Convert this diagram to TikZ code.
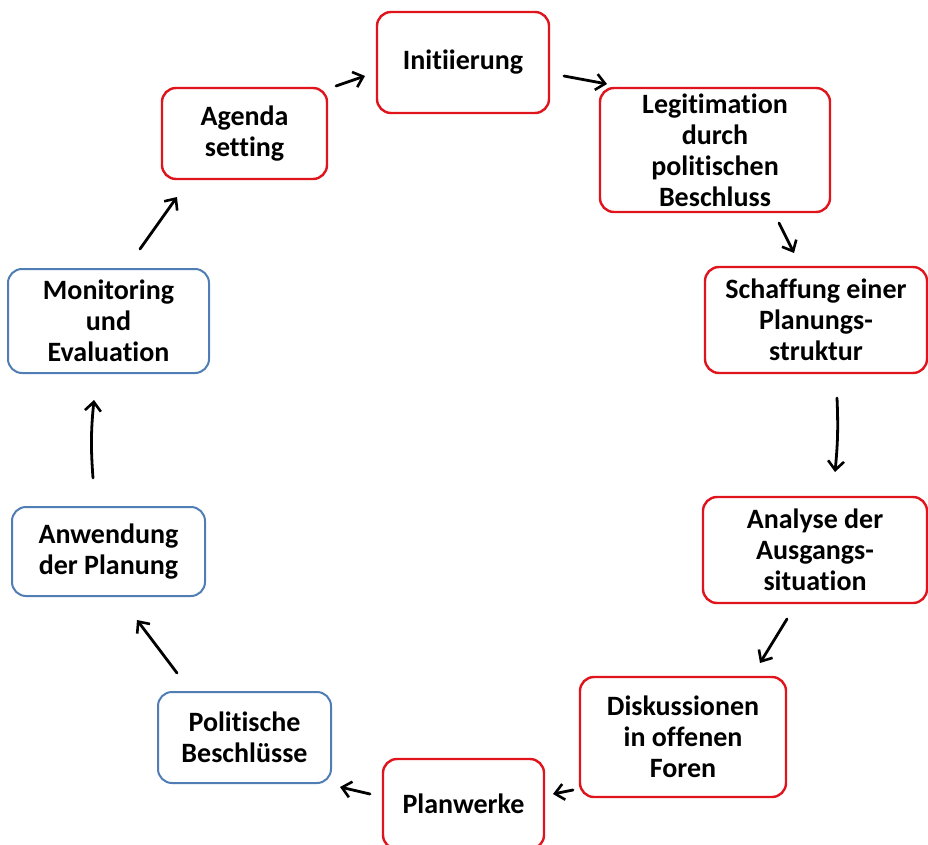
\documentclass[tikz,border=0pt]{standalone}
\usepackage{fontspec}
\setmainfont{Carlito}[Ligatures=NoCommon]
\usetikzlibrary{arrows.meta}
\definecolor{boxred}{RGB}{224,20,28}
\definecolor{boxblue}{RGB}{79,125,180}
\begin{document}
\begin{tikzpicture}[x=1pt,y=-1pt,
 stage/.style={draw, rounded corners=14pt, line width=2.4pt, align=center, font=\bfseries\fontsize{28}{31}\selectfont, inner sep=0pt, fill=white},
 redbox/.style={stage, draw=boxred},
 bluebox/.style={stage, draw=boxblue, line width=2pt},
 flow/.style={-{Straight Barb[length=9pt,width=16pt,line width=2.6pt]}, line width=2.8pt, line cap=round}]
\useasboundingbox (0,0) rectangle (928,845);
\node[redbox, minimum width=172pt, minimum height=101pt] (init) at (463,62.5) {Initiierung};
\node[redbox, minimum width=230pt, minimum height=124pt] (legit) at (715,150) {Legitimation\\durch\\politischen\\Beschluss};
\node[redbox, minimum width=222pt, minimum height=106pt] (schaff) at (816,320) {Schaffung einer\\Planungs-\\struktur};
\node[redbox, minimum width=224pt, minimum height=106pt] (analyse) at (815,550) {Analyse der\\Ausgangs-\\situation};
\node[redbox, minimum width=206pt, minimum height=120pt] (disk) at (683,737) {Diskussionen\\in offenen\\Foren};
\node[redbox, minimum width=161pt, minimum height=90pt] (plan) at (463.5,804) {Planwerke};
\node[bluebox, minimum width=173pt, minimum height=91pt] (polit) at (244.5,737.5) {Politische\\Beschlüsse};
\node[bluebox, minimum width=193pt, minimum height=89pt] (anw) at (108.5,551.5) {Anwendung\\der Planung};
\node[bluebox, minimum width=201pt, minimum height=104pt] (monit) at (108.5,321) {Monitoring\\und\\Evaluation};
\node[redbox, minimum width=165pt, minimum height=91pt] (agenda) at (244.5,133.5) {Agenda\\setting};
% connector end points
\coordinate (a1s) at (336,86);  \coordinate (a1e) at (365,76);
\coordinate (a2s) at (564,76);  \coordinate (a2e) at (607,84);
\coordinate (a3s) at (779,223); \coordinate (a3e) at (794,253);
\coordinate (a4s) at (837,398); \coordinate (a4e) at (835,472);
\coordinate (a5s) at (787,619); \coordinate (a5e) at (760,663);
\coordinate (a6s) at (573,790); \coordinate (a6e) at (553,794);
\coordinate (a7s) at (370,794); \coordinate (a7e) at (340,787);
\coordinate (a8s) at (177,673); \coordinate (a8e) at (137,620);
\coordinate (a9s) at (93,478);  \coordinate (a9e) at (94,400);
\coordinate (a10s) at (140,249); \coordinate (a10e) at (177,197);
\draw[flow] (a1s) -- (a1e);
\draw[flow] (a2s) -- (a2e);
\draw[flow] (a3s) -- (a3e);
\draw[flow] (a4s) to[bend left=4] (a4e);
\draw[flow] (a5s) -- (a5e);
\draw[flow] (a6s) -- (a6e);
\draw[flow] (a7s) -- (a7e);
\draw[flow] (a8s) -- (a8e);
\draw[flow] (a9s) to[bend left=5] (a9e);
\draw[flow] (a10s) -- (a10e);
\end{tikzpicture}
\end{document}
